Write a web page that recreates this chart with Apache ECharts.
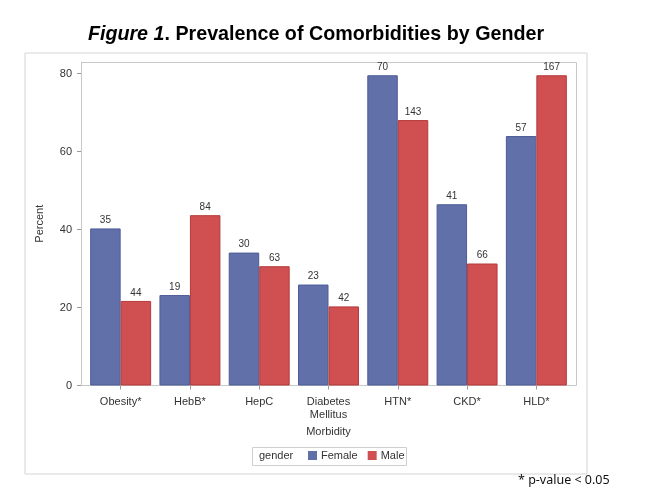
<!DOCTYPE html>
<html><head><meta charset="utf-8">
<script src="https://cdn.jsdelivr.net/npm/echarts@6/dist/echarts.min.js"></script>
<style>html,body{margin:0;padding:0;background:#fff;}#c{width:645px;height:502px;}</style>
</head><body><div id="c"></div>
<script>
const categories = ['Obesity*', 'HebB*', 'HepC', 'Diabetes\nMellitus', 'HTN*', 'CKD*', 'HLD*'];
const femalePct = [40.3, 23.2, 34.1, 25.9, 79.6, 46.5, 64.0];
const malePct = [21.7, 43.7, 30.6, 20.3, 68.1, 31.3, 79.6];
const femaleN = [35, 19, 30, 23, 70, 41, 57];
const maleN = [44, 84, 63, 42, 143, 66, 167];
const yTicks = [0, 20, 40, 60, 80];

const chart = echarts.init(document.getElementById('c'), null, {renderer: 'canvas'});
const lblStyle = {show: true, position: 'top', fontSize: 10, color: '#333', fontFamily: 'Liberation Sans, Arial', distance: 3};
chart.setOption({
  animation: false,
  title: {
    text: '{i|Figure 1}{b|. Prevalence of Comorbidities by Gender}',
    left: 311, top: 20, textAlign: 'center',
    textStyle: {rich: {
      i: {fontStyle: 'italic', fontSize: 19.7, fontFamily: 'Liberation Sans, Arial', color: '#000'},
      b: {fontWeight: 'bold', fontSize: 19.7, fontFamily: 'Liberation Sans, Arial', color: '#000'}
    }}
  },
  graphic: [
    {type: 'rect', shape: {x: 25, y: 53, width: 562, height: 421}, style: {fill: 'none', stroke: '#d4d4d4', lineWidth: 1}, z: -1},
    {type: 'rect', shape: {x: 81.5, y: 62.5, width: 495, height: 323}, style: {fill: 'none', stroke: '#c8c8c8', lineWidth: 1}, z: 0},
    {type: 'rect', shape: {x: 252.5, y: 447.5, width: 154, height: 18}, style: {fill: '#fff', stroke: '#cfcfcf', lineWidth: 1}, z: -1},
    {type: 'text', left: 259, top: 450, style: {text: 'gender', fontSize: 11, fill: '#333', fontFamily: 'Liberation Sans, Arial'}},
    {type: 'text', left: 518, top: 474, style: {text: '* p-value < 0.05', fontSize: 12.5, fill: '#111', fontFamily: 'Noto Sans'}}
  ],
  legend: {
    left: 308, top: 450, padding: 0, itemWidth: 9, itemHeight: 9, itemGap: 10,
    icon: 'rect',
    itemStyle: {borderWidth: 0},
    textStyle: {fontSize: 11, color: '#333', fontFamily: 'Liberation Sans, Arial', padding: [0, 0, 0, -1]},
    data: ['Female', 'Male']
  },
  grid: {left: 86, right: 74, top: 62, bottom: 116.5, containLabel: false},
  xAxis: {
    type: 'category', data: categories,
    name: 'Morbidity', nameLocation: 'middle', nameGap: 41,
    nameTextStyle: {fontSize: 11, color: '#333', fontFamily: 'Liberation Sans, Arial'},
    axisLine: {show: false},
    axisTick: {show: true, alignWithLabel: true, length: 4, lineStyle: {color: '#999'}},
    axisLabel: {fontSize: 11, color: '#333', fontFamily: 'Liberation Sans, Arial', margin: 10, lineHeight: 13, interval: 0}
  },
  yAxis: {
    type: 'value', min: 0, max: 83,
    offset: 5,
    name: 'Percent', nameLocation: 'middle', nameGap: 36,
    nameTextStyle: {fontSize: 11, color: '#333', fontFamily: 'Liberation Sans, Arial'},
    axisLine: {show: true, lineStyle: {color: '#c8c8c8'}},
    axisTick: {show: true, length: 4, lineStyle: {color: '#999'}, customValues: yTicks},
    axisLabel: {fontSize: 11, color: '#333', fontFamily: 'Liberation Sans, Arial', margin: 9, customValues: yTicks},
    splitLine: {show: false}
  },
  series: [
    {name: 'Female', type: 'bar', data: femalePct, barGap: '0%', barCategoryGap: '12%',
     itemStyle: {color: '#6170a8', borderColor: '#4d5c97', borderWidth: 1},
     label: Object.assign({}, lblStyle, {formatter: p => String(femaleN[p.dataIndex])})},
    {name: 'Male', type: 'bar', data: malePct, barGap: '0%', barCategoryGap: '12%',
     itemStyle: {color: '#d04f51', borderColor: '#b53a3c', borderWidth: 1},
     label: Object.assign({}, lblStyle, {formatter: p => String(maleN[p.dataIndex])})}
  ]
});
</script></body></html>
